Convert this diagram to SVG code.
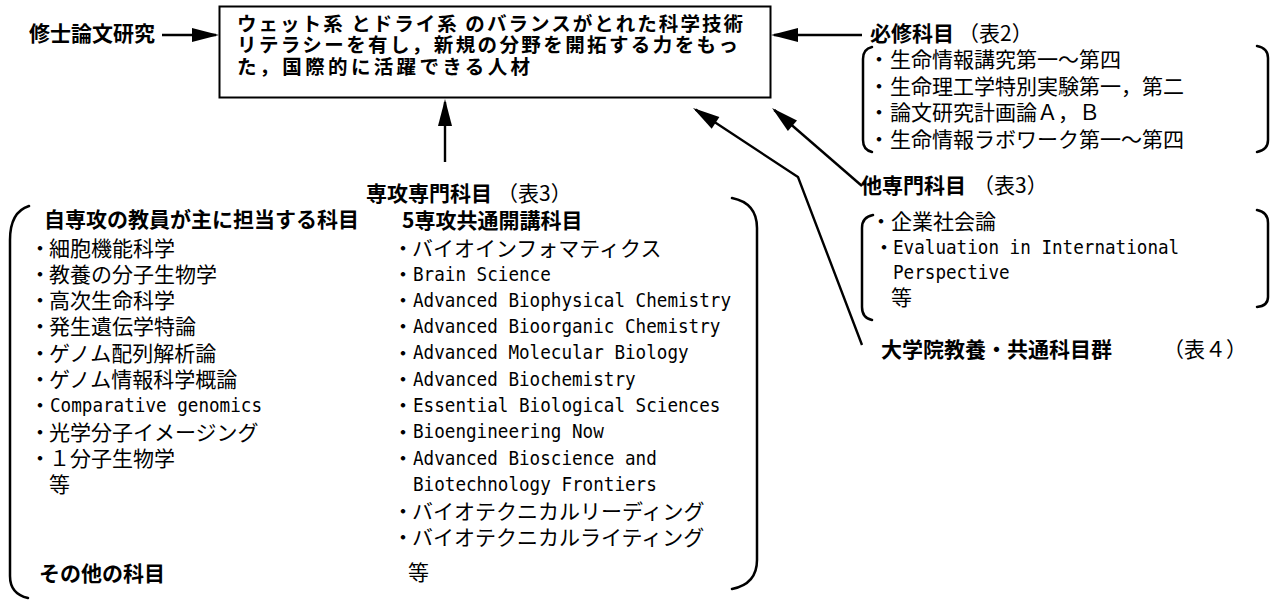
<svg xmlns="http://www.w3.org/2000/svg" width="1276" height="601" viewBox="0 0 1276 601">
<style>
.b{font-family:"Noto Sans CJK JP","Noto Sans CJK SC",sans-serif;font-weight:bold;font-size:21px;fill:#000}
.g{font-family:"Noto Sans CJK JP","Noto Sans CJK SC",sans-serif;font-weight:bold;font-size:19.5px;fill:#000}
.r{font-family:"Noto Sans CJK JP","Noto Sans CJK SC",sans-serif;font-size:21px;fill:#000}
.m{font-family:"DejaVu Sans Mono","Liberation Mono",monospace;font-size:19.5px;fill:#000}
.br{fill:none;stroke:#000;stroke-width:2.5;stroke-linecap:round}
.c{fill:none;stroke:#000;stroke-width:2.4}
.box{fill:#fff;stroke:#000;stroke-width:2}
</style>
<defs>
<marker id="ah" markerUnits="userSpaceOnUse" markerWidth="28" markerHeight="14" refX="24" refY="7" orient="auto" overflow="visible">
<path d="M0,0 L27,7 L0,14 z" fill="#000"/>
</marker>
</defs>
<g id="connectors">
<line class="c" x1="162" y1="35" x2="216" y2="35" marker-end="url(#ah)"/>
<line class="c" x1="862" y1="35" x2="774" y2="35" marker-end="url(#ah)"/>
<line class="c" x1="445" y1="162" x2="445" y2="102" marker-end="url(#ah)"/>
<line class="c" x1="862" y1="186" x2="774.3" y2="110" marker-end="url(#ah)"/>
<polyline class="c" points="862,345 798,177 695.5,109.6" marker-end="url(#ah)"/>
</g>
<g id="node-thesis">
<text class="b" x="29" y="41">修士論文研究</text>
</g>
<g id="node-goal">
<rect class="box" x="219.5" y="6.5" width="551" height="91"/>
<text class="g" x="237" y="30.5" textLength="506" lengthAdjust="spacing">ウェット系 とドライ系 のバランスがとれた科学技術</text>
<text class="g" x="237" y="52" textLength="501" lengthAdjust="spacing">リテラシーを有し，新規の分野を開拓する力をもっ</text>
<text class="g" x="237" y="73.5" textLength="293" lengthAdjust="spacing">た，国際的に活躍できる人材</text>
</g>
<g id="node-required">
<text class="b" x="870" y="41">必修科目</text>
<text class="r" x="958" y="41">（表2）</text>
<path class="br" d="M872,47 Q863,49 863,59 L863,140 Q863,150 872,152"/>
<path class="br" d="M1257,46 Q1268,48 1268,58 L1268,140 Q1268,150 1257,152"/>
<text class="r" y="67"><tspan x="868.5">・</tspan><tspan x="890">生命情報講究第一～第四</tspan></text>
<text class="r" y="93.5"><tspan x="868.5">・</tspan><tspan x="890">生命理工学特別実験第一，第二</tspan></text>
<text class="r" y="120"><tspan x="868.5">・</tspan><tspan x="890">論文研究計画論Ａ，Ｂ</tspan></text>
<text class="r" y="146.5"><tspan x="868.5">・</tspan><tspan x="890">生命情報ラボワーク第一～第四</tspan></text>
</g>
<g id="node-major">
<text class="b" x="366" y="201">専攻専門科目</text>
<text class="r" x="497" y="201">（表3）</text>
<path class="br" d="M29,206 Q10,212 10,240 L10,576 Q10,594 28,598"/>
<path class="br" d="M732,198 Q757,203 757,228 L757,560 Q757,584 732,589"/>
<text class="b" x="44" y="227">自専攻の教員が主に担当する科目</text>
<text class="b" x="402" y="228">5専攻共通開講科目</text>
<text class="r" y="255.5"><tspan x="29.5">・</tspan><tspan x="49">細胞機能科学</tspan></text>
<text class="r" y="281.8"><tspan x="29.5">・</tspan><tspan x="49">教養の分子生物学</tspan></text>
<text class="r" y="308.1"><tspan x="29.5">・</tspan><tspan x="49">高次生命科学</tspan></text>
<text class="r" y="334.4"><tspan x="29.5">・</tspan><tspan x="49">発生遺伝学特論</tspan></text>
<text class="r" y="360.7"><tspan x="29.5">・</tspan><tspan x="49">ゲノム配列解析論</tspan></text>
<text class="r" y="387"><tspan x="29.5">・</tspan><tspan x="49">ゲノム情報科学概論</tspan></text>
<text class="r" y="413.3"><tspan x="29.5">・</tspan><tspan class="m" x="50" y="412" textLength="212" lengthAdjust="spacingAndGlyphs">Comparative genomics</tspan></text>
<text class="r" y="439.6"><tspan x="29.5">・</tspan><tspan x="49">光学分子イメージング</tspan></text>
<text class="r" y="465.9"><tspan x="29.5">・</tspan><tspan x="49">１分子生物学</tspan></text>
<text class="r" x="49" y="492.2">等</text>
<text class="b" x="39" y="581">その他の科目</text>
<text class="r" y="255.5"><tspan x="392.5">・</tspan><tspan x="412">バイオインフォマティクス</tspan></text>
<text class="r" y="281.8"><tspan x="392.5">・</tspan><tspan class="m" x="413" y="280.5" textLength="137.8" lengthAdjust="spacingAndGlyphs">Brain Science</tspan></text>
<text class="r" y="308.1"><tspan x="392.5">・</tspan><tspan class="m" x="413" y="306.8" textLength="318" lengthAdjust="spacingAndGlyphs">Advanced Biophysical Chemistry</tspan></text>
<text class="r" y="334.4"><tspan x="392.5">・</tspan><tspan class="m" x="413" y="333.1" textLength="307.4" lengthAdjust="spacingAndGlyphs">Advanced Bioorganic Chemistry</tspan></text>
<text class="r" y="360.7"><tspan x="392.5">・</tspan><tspan class="m" x="413" y="359.4" textLength="275.6" lengthAdjust="spacingAndGlyphs">Advanced Molecular Biology</tspan></text>
<text class="r" y="387"><tspan x="392.5">・</tspan><tspan class="m" x="413" y="385.7" textLength="222.6" lengthAdjust="spacingAndGlyphs">Advanced Biochemistry</tspan></text>
<text class="r" y="413.3"><tspan x="392.5">・</tspan><tspan class="m" x="413" y="412" textLength="307.4" lengthAdjust="spacingAndGlyphs">Essential Biological Sciences</tspan></text>
<text class="r" y="439.6"><tspan x="392.5">・</tspan><tspan class="m" x="413" y="438.3" textLength="190.8" lengthAdjust="spacingAndGlyphs">Bioengineering Now</tspan></text>
<text class="r" y="465.9"><tspan x="392.5">・</tspan><tspan class="m" x="413" y="464.6" textLength="243.8" lengthAdjust="spacingAndGlyphs">Advanced Bioscience and</tspan></text>
<text class="m" x="413" y="490.9" textLength="243.8" lengthAdjust="spacingAndGlyphs">Biotechnology Frontiers</text>
<text class="r" y="518.5"><tspan x="392.5">・</tspan><tspan x="412">バイオテクニカルリーディング</tspan></text>
<text class="r" y="544.8"><tspan x="392.5">・</tspan><tspan x="412">バイオテクニカルライティング</tspan></text>
<text class="r" x="408" y="579.5">等</text>
</g>
<g id="node-other">
<text class="b" x="861" y="193">他専門科目</text>
<text class="r" x="973" y="193">（表3）</text>
<path class="br" d="M873,215 Q862,217 862,228 L862,307 Q862,318 872,320"/>
<path class="br" d="M1257,210 Q1268,212 1268,223 L1268,297 Q1268,306 1257,307"/>
<text class="r" y="228.5"><tspan x="870.5">・</tspan><tspan x="891">企業社会論</tspan></text>
<text class="r" y="255"><tspan x="873.5">・</tspan><tspan class="m" x="893" y="253.7" textLength="286.2" lengthAdjust="spacingAndGlyphs">Evaluation in International</tspan></text>
<text class="m" x="893" y="279.2" textLength="116.6" lengthAdjust="spacingAndGlyphs">Perspective</text>
<text class="r" x="891" y="305">等</text>
</g>
<g id="node-grad">
<text class="b" x="881" y="357">大学院教養・共通科目群</text>
<text class="r" x="1163" y="357">（表４）</text>
</g>
</svg>
